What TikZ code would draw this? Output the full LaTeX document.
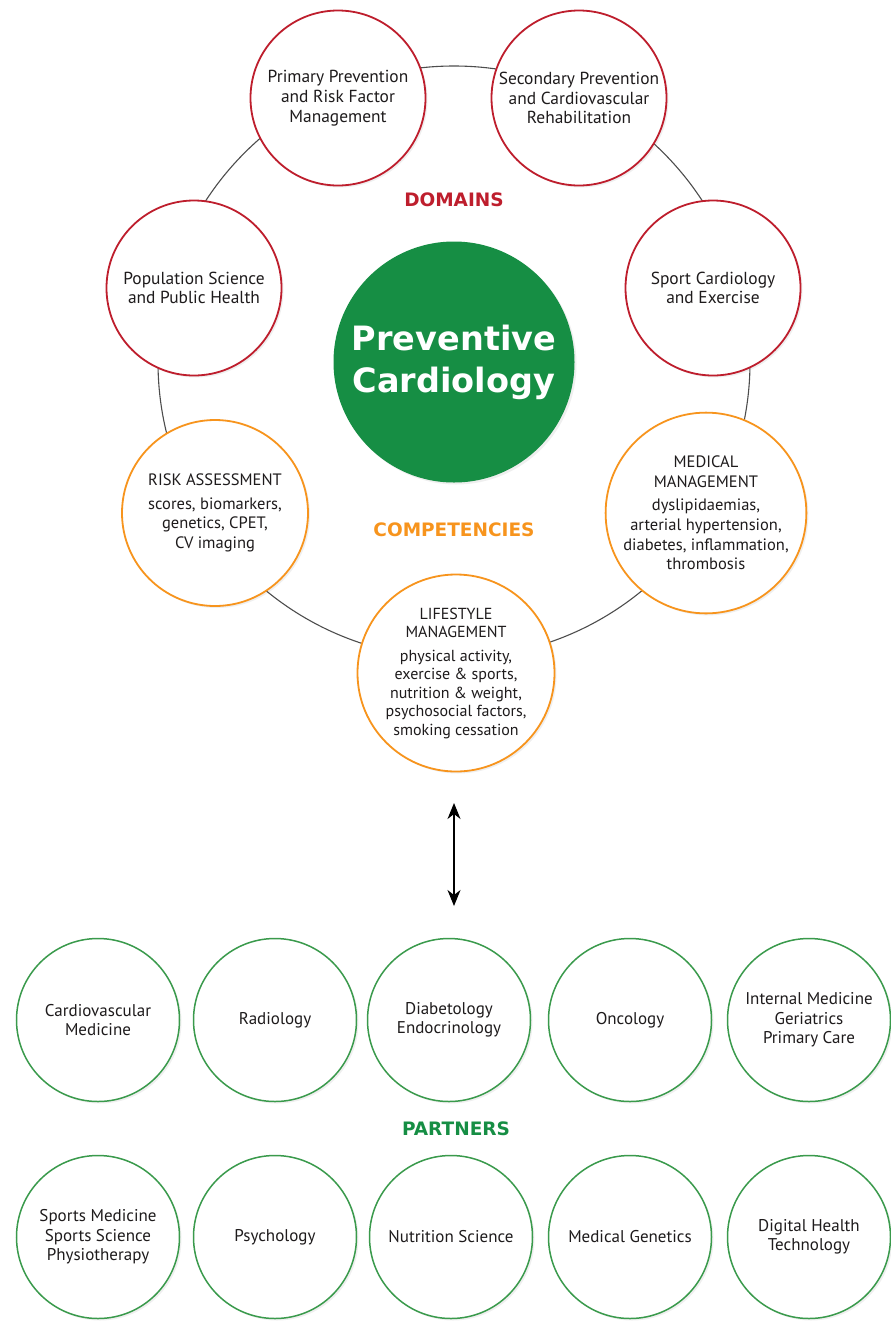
\documentclass[tikz,border=0pt]{standalone}
\usepackage{fontspec}
\setmainfont{PT Sans}
\newfontfamily\labfont{DejaVu Sans}
\usetikzlibrary{shadows,arrows.meta}

\definecolor{domred}{HTML}{BE1E2D}
\definecolor{comporange}{HTML}{F7941D}
\definecolor{pcgreen}{HTML}{168E44}
\definecolor{partgreen}{HTML}{3A9A4C}
\definecolor{txt}{HTML}{1E1B1C}
\definecolor{ringgray}{HTML}{4D4D4D}

\begin{document}
\begin{tikzpicture}[x=1pt,y=-1pt,
  bub/.style={circle, fill=white, line width=1.8pt, inner sep=0pt, align=center, text=txt,
    font=\fontsize{16.5}{19.7}\selectfont,
    drop shadow={opacity=0.12, shadow xshift=2pt, shadow yshift=-2pt}},
  dom/.style={bub, draw=domred, minimum size=175pt, font=\fontsize{17.4}{19.7}\selectfont},
  comp/.style={bub, draw=comporange},
  part/.style={bub, draw=partgreen, minimum size=163pt, line width=1.5pt, font=\fontsize{17}{19.5}\selectfont},
  lab/.style={font=\labfont\bfseries\fontsize{18.5}{22}\selectfont},
  core/.style={circle, fill=pcgreen, minimum size=241pt, inner sep=0pt, align=center, text=white,
    font=\labfont\bfseries\fontsize{33.5}{42}\selectfont,
    drop shadow={opacity=0.12, shadow xshift=2pt, shadow yshift=-2pt}},
  biarrow/.style={{Stealth[length=16pt,width=13pt,inset=5pt]}-{Stealth[length=16pt,width=13pt,inset=5pt]}, line width=1.2pt, black},
]
\fill[white] (0,0) rectangle (891,1331);
\useasboundingbox (0,0) rectangle (891,1331);

% ring
\coordinate (rc) at (454,362);
\draw[ringgray, line width=1.1pt] (rc) circle[radius=296];

% domains
\node[dom] (pp) at (338,98) {Primary Prevention\\and Risk Factor\\Management};
\node[dom] (sp) at (579,98) {Secondary Prevention\\and Cardiovascular\\Rehabilitation};
\node[dom] (ps) at (194,288) {Population Science\\and Public Health};
\node[dom] (sc) at (713,288) {Sport Cardiology\\and Exercise};

% core
\node[core] (pc) at (454,362) {Preventive\\Cardiology};

% competencies
\node[comp, minimum size=186pt] (ra) at (215,513) {RISK ASSESSMENT\\[3.5pt]scores, biomarkers,\\genetics, CPET,\\CV imaging};
\node[comp, minimum size=186pt] (mm) at (706,513) {MEDICAL\\MANAGEMENT\\[3.5pt]dyslipidaemias,\\arterial hypertension,\\diabetes, inflammation,\\thrombosis};
\node[comp, minimum size=197pt, font=\fontsize{16}{18.5}\selectfont] (lm) at (456,673) {LIFESTYLE\\MANAGEMENT\\[5pt]physical activity,\\exercise \& sports,\\nutrition \& weight,\\psychosocial factors,\\smoking cessation};

% labels
\node[lab, text=domred] (dl) at (454,200) {DOMAINS};
\node[lab, text=comporange] (cl) at (454,530) {COMPETENCIES};
\node[lab, text=pcgreen] (pl) at (456,1129) {PARTNERS};

% arrow
\coordinate (at) at (454,803);
\coordinate (ab) at (454,906);
\draw[biarrow] (at) -- (ab);

% partners row 1
\node[part] (p1) at (98,1020) {Cardiovascular\\Medicine};
\node[part] (p2) at (275,1020) {Radiology};
\node[part] (p3) at (449,1020) {Diabetology\\Endocrinology};
\node[part] (p4) at (630,1020) {Oncology};
\node[part] (p5) at (809,1020) {Internal Medicine\\Geriatrics\\Primary Care};

% partners row 2
\node[part] (q1) at (98,1237) {Sports Medicine\\Sports Science\\Physiotherapy};
\node[part] (q2) at (275,1237) {Psychology};
\node[part] (q3) at (451,1237) {Nutrition Science};
\node[part] (q4) at (630,1237) {Medical Genetics};
\node[part] (q5) at (809,1237) {Digital Health\\Technology};
\end{tikzpicture}
\end{document}
